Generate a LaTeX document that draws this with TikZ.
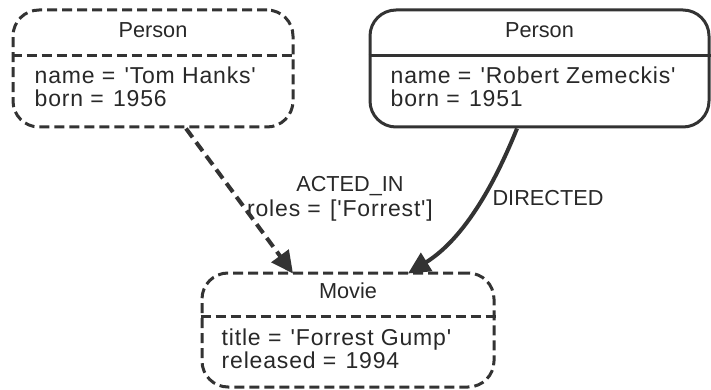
\documentclass[tikz,border=0pt]{standalone}
\usepackage{fontspec}
\setmainfont{Liberation Sans}[Ligatures=TeXOff]
\usetikzlibrary{calc,arrows.meta}
\definecolor{ink}{RGB}{51,51,51}
\definecolor{txt}{RGB}{40,40,40}
\newcommand\eqgap{=\ \hspace{2pt}}
\tikzset{
  box/.style={draw=ink, line width=3pt, rounded corners=26pt, fill=white, inner sep=0pt},
  dashbox/.style={box, dash pattern=on 10pt off 5pt},
  divider/.style={draw=ink, line width=3pt},
  dashdivider/.style={divider, dash pattern=on 10pt off 5pt},
  title/.style={anchor=base, inner sep=0pt, text=txt, font=\fontsize{21.7pt}{25pt}\selectfont},
  attr/.style={anchor=base west, inner sep=0pt, text=txt, font=\fontsize{23pt}{25pt}\selectfont\addfontfeature{LetterSpace=3.6}},
  rel/.style={draw=ink, line width=4pt, -{Triangle[length=22pt,width=21pt]}},
  reldash/.style={rel, dash pattern=on 11pt off 6pt},
}
\begin{document}
\begin{tikzpicture}[x=1pt,y=-1pt]
\useasboundingbox (0,0) rectangle (711,390);
% boxes
\node[dashbox, minimum width=280pt, minimum height=117pt] (p1) at (153,68.5) {};
\node[box, minimum width=339pt, minimum height=117pt] (p2) at (539.5,68.5) {};
\node[dashbox, minimum width=292pt, minimum height=114pt] (movie) at (348,330) {};
% dividers
\draw[dashdivider] ($(p1.north west)+(0,47)$) -- ($(p1.north east)+(0,47)$);
\draw[divider] ($(p2.north west)+(0,47)$) -- ($(p2.north east)+(0,47)$);
\draw[dashdivider] ($(movie.north west)+(0,45)$) -- ($(movie.north east)+(0,45)$);
% texts
\node[title] (p1t) at ($(p1.north)+(0,29.3)$) {Person};
\node[attr] (p1a) at ($(p1.north west)+(23,75)$) {name \eqgap'Tom Hanks'};
\node[attr] (p1b) at ($(p1.north west)+(23,98)$) {born \eqgap1956};
\node[title] (p2t) at ($(p2.north)+(0,29.3)$) {Person};
\node[attr] (p2a) at ($(p2.north west)+(22,75)$) {name \eqgap'Robert Zemeckis'};
\node[attr] (p2b) at ($(p2.north west)+(22,98)$) {born \eqgap1951};
\node[title] (mt) at ($(movie.north)+(0,27)$) {Movie};
\node[attr] (ma) at ($(movie.north west)+(21,74)$) {title \eqgap'Forrest Gump'};
\node[attr] (mb) at ($(movie.north west)+(21,96.5)$) {released \eqgap1994};
% edge labels
\node[title] (l1) at (350,191.7) {ACTED\_IN};
\node[attr, anchor=base] (l2) at (340,216.7) {roles \eqgap['Forrest']};
\node[title] (l3) at (548,205) {DIRECTED};
% edges
\draw[reldash] ($(p1.south)+(33,0)$) -- ($(movie.north)+(-55,2)$);
\draw[rel] ($(p2.south)+(-22.5,0)$) .. controls (501,168) and (470,235) .. ($(movie.north)+(60,2)$);
\end{tikzpicture}
\end{document}
